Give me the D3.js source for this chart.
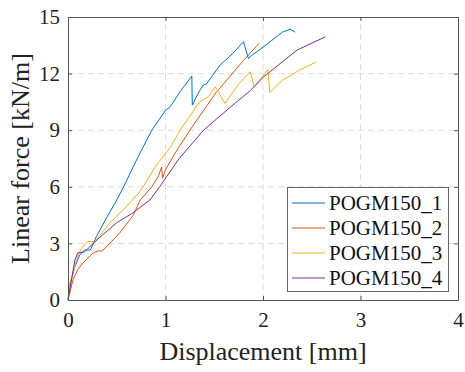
<!DOCTYPE html>
<html lang="en">

<head>
    <meta charset="UTF-8">
    <title>Linear force vs displacement</title>
    <style>
        body { margin: 0; background: #fff; }
        svg text { font-family: "Liberation Serif", "Times New Roman", serif !important; }
    </style>
</head>

<body>
    <script src="https://d3js.org/d3.v7.min.js"></script>
    <script>
    // tick labels
    var xTicks = [0, 1, 2, 3, 4];
    var yTicks = [0, 3, 6, 9, 12, 15];

    // series names
    var names = ["POGM150_1", "POGM150_2", "POGM150_3", "POGM150_4"];

    // displacement [mm] / force [kN/m]
    var d1 = [0, 0.02, 0.07, 0.12, 0.17, 0.23, 0.29, 0.4, 0.5, 0.57, 0.72, 0.86, 1.0, 1.05, 1.15, 1.27, 1.275, 1.31, 1.35, 1.39, 1.42, 1.56, 1.69, 1.8, 1.85, 1.88, 2.0, 2.2, 2.28, 2.33];
    var f1 = [0, 0.8, 1.76, 2.38, 2.65, 2.65, 3.35, 4.4, 5.3, 6.0, 7.6, 9.0, 10.05, 10.25, 11.05, 11.87, 10.33, 10.7, 11.1, 11.4, 11.45, 12.45, 13.07, 13.69, 12.8, 12.95, 13.4, 14.2, 14.35, 14.2];

    var d2 = [0, 0.05, 0.1, 0.15, 0.26, 0.31, 0.35, 0.4, 0.53, 0.67, 0.74, 0.86, 0.93, 0.96, 0.97, 1.0, 1.1, 1.25, 1.52, 1.8, 1.96];
    var f2 = [0, 1.05, 1.6, 1.95, 2.5, 2.6, 2.6, 2.85, 3.55, 4.5, 5.3, 6.0, 6.6, 7.05, 6.45, 6.9, 7.8, 9.0, 11.0, 12.7, 13.6];

    var d3v = [0, 0.02, 0.04, 0.09, 0.12, 0.15, 0.2, 0.28, 0.31, 0.43, 0.6, 0.72, 0.77, 0.9, 1.05, 1.15, 1.35, 1.44, 1.51, 1.61, 1.68, 1.76, 1.87, 1.91, 2.05, 2.07, 2.2, 2.38, 2.54];
    var f3 = [0, 0.9, 1.2, 2.2, 2.55, 2.8, 3.1, 3.1, 3.3, 4.1, 4.95, 5.65, 6.0, 7.1, 8.1, 9.0, 10.5, 10.77, 11.3, 10.42, 10.95, 11.5, 12.1, 11.3, 12.2, 11.0, 11.65, 12.2, 12.6];

    var d4 = [0, 0.04, 0.07, 0.1, 0.17, 0.22, 0.3, 0.5, 0.66, 0.84, 0.94, 1.14, 1.39, 1.66, 1.87, 2.0, 2.35, 2.64];
    var f4 = [0, 1.2, 2.1, 2.5, 2.55, 2.8, 3.2, 4.1, 4.6, 5.3, 6.0, 7.5, 9.0, 10.2, 11.1, 11.8, 13.25, 13.95];

    var colors = ["#0072BD", "#D95319", "#EDB120", "#7E2F8E"];

    var width = 465, height = 372;
    var padding = { left: 68, right: 7, top: 17, bottom: 72 };
    var serif = '"Liberation Serif", serif';

    var series = [[d1, f1], [d2, f2], [d3v, f3], [d4, f4]].map(function(s, i) {
        return { name: names[i], color: colors[i], pts: s[0].map(function(d, j) { return [d, s[1][j]]; }) };
    });

    var svg = d3.select('body').append('svg').attr('width', width).attr('height', height)
        .style('font-family', serif);

    var x = d3.scaleLinear().domain([0, 4]).range([padding.left, width - padding.right]);
    var y = d3.scaleLinear().domain([0, 15]).range([height - padding.bottom, padding.top]);

    //网格
    svg.append('g').selectAll('line').data(xTicks.slice(1, -1)).enter().append('line')
        .attr('x1', function(d) { return x(d); }).attr('x2', function(d) { return x(d); })
        .attr('y1', y(0)).attr('y2', y(15))
        .attr('stroke', '#dedede').attr('stroke-dasharray', '6,4');
    svg.append('g').selectAll('line').data(yTicks.slice(1, -1)).enter().append('line')
        .attr('y1', function(d) { return y(d); }).attr('y2', function(d) { return y(d); })
        .attr('x1', x(0)).attr('x2', x(4))
        .attr('stroke', '#dedede').attr('stroke-dasharray', '6,4');

    //曲线
    var line = d3.line().x(function(d) { return x(d[0]); }).y(function(d) { return y(d[1]); });
    svg.append('g').selectAll('path').data(series).enter().append('path')
        .attr('d', function(d) { return line(d.pts); })
        .attr('fill', 'none')
        .attr('stroke', function(d) { return d.color; })
        .attr('stroke-width', 1);

    //坐标轴
    var tickLen = 4;
    var gx = svg.append('g').attr('transform', 'translate(0,' + y(0) + ')')
        .call(d3.axisBottom(x).tickValues(xTicks).tickFormat(d3.format('d')).tickSizeInner(-tickLen).tickSizeOuter(0).tickPadding(12));
    var gy = svg.append('g').attr('transform', 'translate(' + x(0) + ',0)')
        .call(d3.axisLeft(y).tickValues(yTicks).tickFormat(d3.format('d')).tickSizeInner(-tickLen).tickSizeOuter(0).tickPadding(8));
    var gt = svg.append('g').attr('transform', 'translate(0,' + y(15) + ')')
        .call(d3.axisTop(x).tickValues(xTicks).tickFormat('').tickSizeInner(-tickLen).tickSizeOuter(0));
    var gr = svg.append('g').attr('transform', 'translate(' + x(4) + ',0)')
        .call(d3.axisRight(y).tickValues(yTicks).tickFormat('').tickSizeInner(-tickLen).tickSizeOuter(0));

    [gx, gy, gt, gr].forEach(function(g) {
        g.attr('font-family', serif).attr('font-size', 21);
        g.select('.domain').attr('stroke', '#555');
        g.selectAll('.tick line').attr('stroke', '#555');
        g.selectAll('.tick text').style('font-family', serif).attr('fill', '#222');
    });

    svg.append('text')
        .attr('x', (x(0) + x(4)) / 2)
        .attr('y', 360)
        .attr('text-anchor', 'middle')
        .attr('font-size', 26)
        .attr('fill', '#222')
        .text('Displacement [mm]');

    svg.append('text')
        .attr('transform', 'translate(29,' + (y(0) + y(15)) / 2 + ') rotate(-90)')
        .attr('text-anchor', 'middle')
        .attr('font-size', 26)
        .attr('fill', '#222')
        .text('Linear force [kN/m]');

    //图例
    var legend = svg.append('g');
    legend.append('rect')
        .attr('x', 287.5).attr('y', 187.5)
        .attr('width', 161).attr('height', 104)
        .attr('fill', '#fff').attr('stroke', '#666');
    var items = legend.selectAll('.item').data(series).enter().append('g')
        .attr('class', 'item')
        .attr('transform', function(d, i) { return 'translate(0,' + (203 + i * 25) + ')'; });
    items.append('line')
        .attr('x1', 292).attr('x2', 325)
        .attr('stroke', function(d) { return d.color; });
    items.append('text')
        .attr('x', 329).attr('y', 7)
        .attr('font-size', 21)
        .attr('fill', '#111')
        .text(function(d) { return d.name; });
    </script>
</body>

</html>
